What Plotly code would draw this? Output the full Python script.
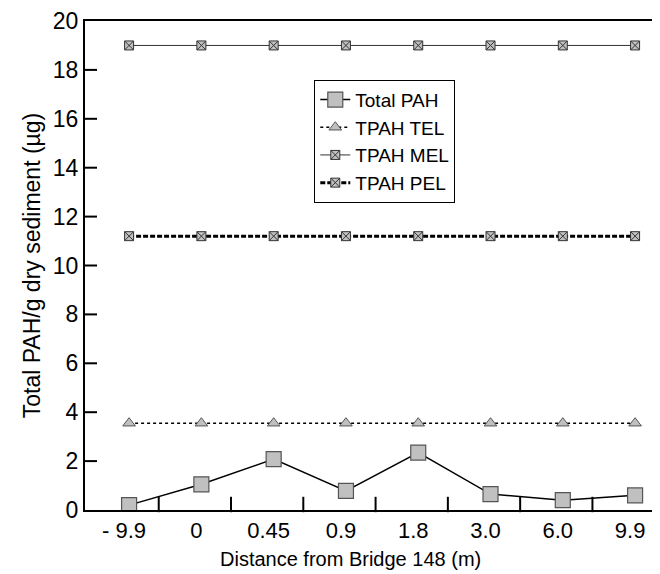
import plotly.graph_objects as go

categories = ["- 9.9", "0", "0.45", "0.9", "1.8", "3.0", "6.0", "9.9"]
total_pah = [0.2, 1.05, 2.08, 0.78, 2.35, 0.65, 0.4, 0.6]
tpah_tel = [3.55] * 8
tpah_mel = [19.0] * 8
tpah_pel = [11.2] * 8
y_ticks = [0, 2, 4, 6, 8, 10, 12, 14, 16, 18, 20]

xs = list(range(len(categories)))
boundaries = [i + 0.41 for i in range(len(categories) - 1)]
X_RANGE = [-0.61, 7.40]
Y_RANGE = [0, 20]

FONT = "Liberation Sans, Arial, sans-serif"
GREY = "#c0c0c0"
DARK = "#555555"

fig = go.Figure()

# inner tick marks drawn as line-shaped markers in axis units
x_half = 5 * (X_RANGE[1] - X_RANGE[0]) / 579
y_half = 5.5 * (Y_RANGE[1] - Y_RANGE[0]) / 489
inner_y = y_ticks[1:-1]
fig.add_trace(go.Scatter(
    x=[X_RANGE[0] + x_half] * len(inner_y), y=inner_y, mode="markers",
    showlegend=False, hoverinfo="skip", cliponaxis=False,
    marker=dict(symbol="line-ew-open", size=10, color="black", line=dict(color="black", width=2)),
))
fig.add_trace(go.Scatter(
    x=boundaries, y=[Y_RANGE[0] + y_half] * len(boundaries), mode="markers",
    showlegend=False, hoverinfo="skip", cliponaxis=False,
    marker=dict(symbol="line-ns-open", size=11, color="black", line=dict(color="black", width=2)),
))

fig.add_trace(go.Scatter(
    x=xs, y=total_pah, name="Total PAH", mode="lines+markers",
    line=dict(color="black", width=1.5),
    marker=dict(symbol="square", size=15, color=GREY, line=dict(color=DARK, width=1.2)),
))
fig.add_trace(go.Scatter(
    x=xs, y=tpah_tel, name="TPAH TEL", mode="lines+markers",
    line=dict(color="black", width=1.5, dash="dot"),
    marker=dict(symbol="triangle-up", size=11, color=GREY, line=dict(color=DARK, width=1)),
))
fig.add_trace(go.Scatter(
    x=xs, y=tpah_mel, name="TPAH MEL", mode="lines+markers",
    line=dict(color="#333333", width=1),
    marker=dict(symbol="square-x", size=9, color=GREY, line=dict(color="#333333", width=1)),
))
fig.add_trace(go.Scatter(
    x=xs, y=tpah_pel, name="TPAH PEL", mode="lines+markers",
    line=dict(color="black", width=3, dash="5px,2px"),
    marker=dict(symbol="square-x", size=9, color=GREY, line=dict(color="#333333", width=1)),
))

fig.update_layout(
    template="none",
    width=660, height=574,
    margin=dict(l=77, r=4, t=13, b=72),
    paper_bgcolor="white", plot_bgcolor="white",
    font=dict(family=FONT, size=23, color="black"),
    showlegend=True,
    legend=dict(
        x=0.396, y=0.88, xanchor="left", yanchor="top",
        bgcolor="white", bordercolor="black", borderwidth=1,
        font=dict(size=19), tracegroupgap=0, itemwidth=30,
    ),
    xaxis=dict(
        range=X_RANGE, tickmode="array", tickvals=xs, ticktext=categories,
        ticks="", showgrid=False, zeroline=False,
        showline=True, linecolor="black", linewidth=2, mirror=True,
        ticklabelshift=-5,
        tickfont=dict(size=22),
    ),
    yaxis=dict(
        range=Y_RANGE, tickmode="array", tickvals=y_ticks,
        ticks="", showgrid=False, zeroline=False,
        showline=True, linecolor="black", linewidth=2, mirror=True,
        title=dict(text="Total PAH/g dry sediment (µg)", standoff=6, font=dict(size=23)),
    ),
    annotations=[dict(
        text="Distance from Bridge 148 (m)", xref="paper", yref="paper",
        x=0.459, y=-0.100, xanchor="center", yanchor="middle", showarrow=False,
        font=dict(size=20),
    )],
)

fig.write_html("out.html")
